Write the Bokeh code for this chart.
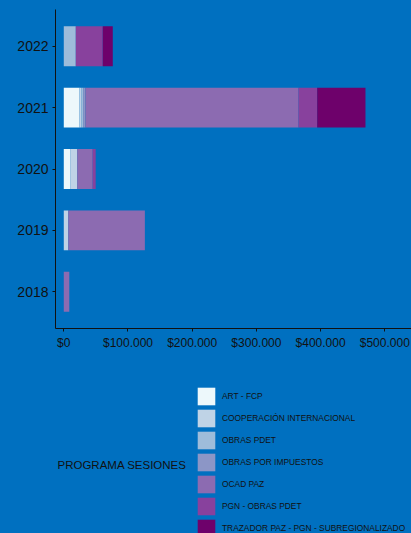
from bokeh.plotting import figure
from bokeh.layouts import column
from bokeh.models import FactorRange, Range1d, FixedTicker, Legend, LegendItem, Label
from bokeh.embed import file_html
from bokeh.resources import INLINE

years = ["2018", "2019", "2020", "2021", "2022"]
programs = ["ART - FCP", "COOPERACIÓN INTERNACIONAL", "OBRAS PDET", "OBRAS POR IMPUESTOS",
            "OCAD PAZ", "PGN - OBRAS PDET", "TRAZADOR PAZ - PGN - SUBREGIONALIZADO"]
art_fcp = [0, 0, 10000, 24500, 0]
cooperacion = [0, 7000, 11000, 2600, 0]
obras_pdet = [0, 0, 0, 3100, 18700]
obras_impuestos = [0, 0, 0, 3600, 0]
ocad_paz = [8600, 119300, 24000, 331800, 0]
pgn_obras = [0, 0, 4700, 29100, 42000]
trazador = [0, 0, 0, 75200, 15600]
colors = ["#edf8fb", "#bfd3e6", "#9ebcda", "#8c96c6", "#8c6bb1", "#88419d", "#6e016b"]
tick_values = [0, 100000, 200000, 300000, 400000, 500000]
tick_labels = ["$0", "$100.000", "$200.000", "$300.000", "$400.000", "$500.000"]
legend_title = "PROGRAMA SESIONES"

keys = ["k%d" % i for i in range(len(programs))]
source = dict(years=years)
for k, vals in zip(keys, [art_fcp, cooperacion, obras_pdet, obras_impuestos, ocad_paz, pgn_obras, trazador]):
    source[k] = vals

BG = "#0070c0"
FONT = "Liberation Sans"
INK = "#111111"

# --- main chart ---
p = figure(width=411, height=353, output_backend="svg", toolbar_location=None,
           y_range=FactorRange(factors=years, range_padding=0.1, range_padding_units="absolute"),
           x_range=Range1d(-12900, 541600),
           min_border_left=55, min_border_right=0, min_border_top=9, min_border_bottom=25)
p.background_fill_color = BG
p.border_fill_color = BG
p.outline_line_color = None
p.grid.grid_line_color = None

p.hbar_stack(keys, y="years", height=0.65, color=colors, source=source, line_color=None)

for ax in (p.xaxis, p.yaxis):
    ax.axis_line_color = INK
    ax.major_tick_line_color = INK
    ax.major_tick_out = 3
    ax.major_tick_in = 0
    ax.minor_tick_line_color = None
    ax.major_label_text_color = INK
    ax.major_label_text_font = FONT
    ax.major_label_standoff = 4

p.xaxis.ticker = FixedTicker(ticks=tick_values)
p.xaxis.major_label_overrides = {v: l for v, l in zip(tick_values, tick_labels)}
p.xaxis.major_label_text_font_size = "12px"
p.yaxis.major_label_text_font_size = "14px"

# --- legend panel (same series, drawn out of view; only the legend shows) ---
q = figure(width=411, height=180, output_backend="svg", toolbar_location=None,
           y_range=FactorRange(factors=years),
           x_range=Range1d(-2e7, -1e7),
           x_axis_location=None, y_axis_location=None,
           min_border_left=55, min_border_right=0, min_border_top=0, min_border_bottom=0)
q.background_fill_color = BG
q.border_fill_color = BG
q.outline_line_color = None
q.grid.grid_line_color = None
rs = q.hbar_stack(keys, y="years", height=0.65, color=colors, source=source, line_color=None)

legend = Legend(items=[LegendItem(label=lab, renderers=[r]) for lab, r in zip(programs, rs)],
                location=(140, -6), orientation="vertical",
                glyph_width=22, glyph_height=22, spacing=0, label_standoff=5,
                label_height=20, padding=0, margin=0,
                border_line_color=None, background_fill_alpha=0,
                label_text_font=FONT, label_text_font_size="8.4px", label_text_color=INK)
q.add_layout(legend, "center")

title = Label(x=2, y=69, x_units="screen", y_units="screen", text=legend_title,
              text_font=FONT, text_font_size="11.5px", text_color=INK,
              text_align="left", text_baseline="middle")
q.add_layout(title)

layout = column(p, q, spacing=0, styles={"background-color": BG})
open("out.html", "w").write(file_html(layout, INLINE))
